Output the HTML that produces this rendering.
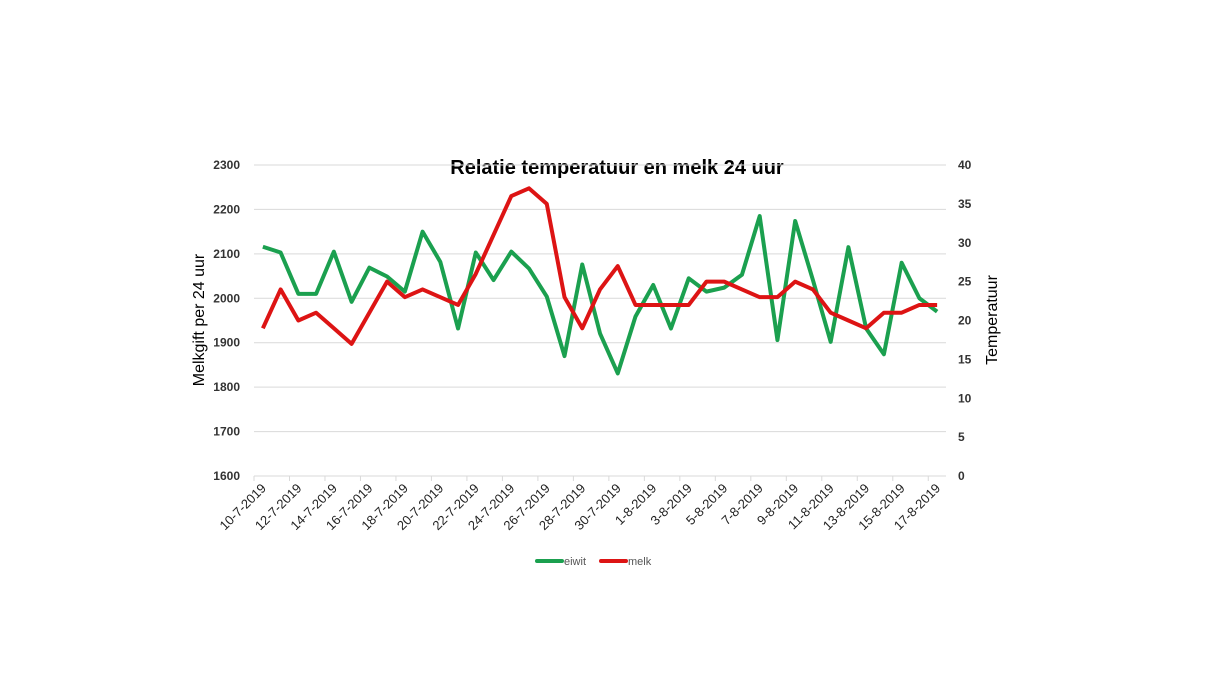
<!DOCTYPE html>
<html><head><meta charset="utf-8">
<style>
html,body{margin:0;padding:0;background:#fff;}
svg{display:block;font-family:"Liberation Sans",sans-serif;}
</style></head>
<body>
<svg id="chart" width="1207" height="679" viewBox="0 0 1207 679" xmlns="http://www.w3.org/2000/svg">
<text x="617" y="174" text-anchor="middle" font-size="20" font-weight="bold" fill="#000">Relatie temperatuur en melk 24 uur</text>
<text transform="translate(204,320) rotate(-90)" text-anchor="middle" font-size="16" fill="#000">Melkgift per 24 uur</text>
<text transform="translate(997,320) rotate(-90)" text-anchor="middle" font-size="16" fill="#000">Temperatuur</text>
<g id="grid"></g><g id="xlabels"></g><g id="lines"></g>
<g>
<line x1="537" y1="561" x2="562" y2="561" stroke="#1ba04f" stroke-width="4" stroke-linecap="round"/>
<text x="564" y="565" font-size="11" fill="#555">eiwit</text>
<line x1="601" y1="561" x2="626" y2="561" stroke="#dd1414" stroke-width="4" stroke-linecap="round"/>
<text x="628" y="565" font-size="11" fill="#555">melk</text>
</g>
</svg>
<script>
const categories = ["10-7-2019","11-7-2019","12-7-2019","13-7-2019","14-7-2019","15-7-2019","16-7-2019","17-7-2019","18-7-2019","19-7-2019","20-7-2019","21-7-2019","22-7-2019","23-7-2019","24-7-2019","25-7-2019","26-7-2019","27-7-2019","28-7-2019","29-7-2019","30-7-2019","31-7-2019","1-8-2019","2-8-2019","3-8-2019","4-8-2019","5-8-2019","6-8-2019","7-8-2019","8-8-2019","9-8-2019","10-8-2019","11-8-2019","12-8-2019","13-8-2019","14-8-2019","15-8-2019","16-8-2019","17-8-2019"];
const eiwit = [2116,2103,2010,2010,2105,1992,2069,2049,2015,2150,2082,1932,2103,2041,2105,2067,2004,1870,2076,1921,1831,1959,2030,1932,2045,2015,2024,2053,2185,1906,2174,2041,1902,2115,1932,1874,2080,2000,1970];
const melk = [19,24,20,21,19,17,21,25,23,24,23,22,26,31,36,37,35,23,19,24,27,22,22,22,22,25,25,24,23,23,25,24,21,20,19,21,21,22,22];
const leftTicks = [1600,1700,1800,1900,2000,2100,2200,2300];
const rightTicks = [0,5,10,15,20,25,30,35,40];

const NS="http://www.w3.org/2000/svg";
const X0=254,X1=946,YT=165,YB=476;
const step=(X1-X0)/categories.length;
function xPos(i){return X0+step*(i+0.5);}
function yL(v){return YB-(v-1600)/700*(YB-YT);}
function yR(v){return YB-v/40*(YB-YT);}
function mk(tag,attrs,parent){const e=document.createElementNS(NS,tag);for(const k in attrs)e.setAttribute(k,attrs[k]);parent.appendChild(e);return e;}
const grid=document.getElementById('grid');
leftTicks.forEach(v=>{
  const l=mk('line',{x1:X0,x2:X1,y1:yL(v),y2:yL(v),stroke:'#d9d9d9','stroke-width':1},grid);
  
  
  const t=mk('text',{x:240,y:yL(v)+4,'text-anchor':'end','font-size':12,'font-weight':'bold',fill:'#333'},grid);
  t.textContent=v;
  
  
});
rightTicks.forEach(v=>{
  const t=mk('text',{x:958,y:yR(v)+4,'font-size':12,'font-weight':'bold',fill:'#333'},grid);
  t.textContent=v;
  
  
});
const xl=document.getElementById('xlabels');
for(let i=0;i<=categories.length;i+=2){
  const tx=X0+step*i;
  const tk=mk('line',{x1:tx,x2:tx,y1:YB,y2:YB+5,stroke:'#d9d9d9'},xl);
  
  
}
categories.forEach((c,i)=>{
  if(i%2)return;
  const x=xPos(i)+4,y=489;
  const t=mk('text',{x:x,y:y,'text-anchor':'end','font-size':13,fill:'#222',transform:`rotate(-45 ${x} ${y})`},xl);
  t.textContent=c;
  
  
});
const lg=document.getElementById('lines');
const pg=mk('polyline',{points:eiwit.map((v,i)=>xPos(i)+','+yL(v)).join(' '),fill:'none',stroke:'#1ba04f','stroke-width':4,'stroke-linejoin':'round'},lg);


const pr=mk('polyline',{points:melk.map((v,i)=>xPos(i)+','+yR(v)).join(' '),fill:'none',stroke:'#dd1414','stroke-width':4,'stroke-linejoin':'round'},lg);


</script>
</body></html>
